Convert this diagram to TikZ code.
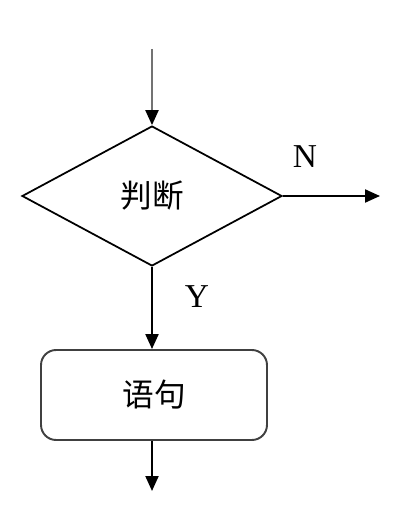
\documentclass[tikz,border=0pt]{standalone}
\usepackage{fontspec}
\setmainfont{Liberation Serif}
\newfontfamily\cjk{Noto Sans CJK SC}
\usetikzlibrary{shapes.geometric,arrows.meta}
\tikzset{
  flowline/.style={line width=1.2pt,-{Triangle[length=0.3cm,width=0.26cm,color=black]}},
  decision/.style={diamond,draw,line width=1pt,inner sep=0pt,minimum width=5.2cm,minimum height=2.8cm,aspect=1.857},
  stmtbox/.style={rectangle,rounded corners=0.3cm,draw=black!75,line width=1.1pt,minimum width=4.52cm,minimum height=1.8cm},
  cnlabel/.style={font=\cjk\fontsize{18}{20}\selectfont},
  latlabel/.style={font=\fontsize{19}{22}\selectfont}
}
\begin{document}
\begin{tikzpicture}[x=0.02cm,y=-0.02cm]
			\useasboundingbox (0,0) rectangle (404,520);
			\coordinate (start) at (152,49);
			\node[decision] (judge) at (152,196) {};
			\node[cnlabel] at (judge.center) {判断};
			\coordinate (noend) at (380,196);
			\node[stmtbox] (stmt) at (154,395) {};
			\node[cnlabel] at (stmt.center) {语句};
			\coordinate (stop) at (152,491);
			\node[latlabel] (nlab) at (305,157) {N};
			\node[latlabel] (ylab) at (197,297) {Y};
			\draw[flowline,draw=black!55] (start) -- (judge.north);
			\draw[flowline] (judge.east) -- (noend);
			\draw[flowline] (judge.south) -- (stmt.north -| judge.south);
			\draw[flowline] (stmt.south -| judge.south) -- (stop);
		\end{tikzpicture}
\end{document}
